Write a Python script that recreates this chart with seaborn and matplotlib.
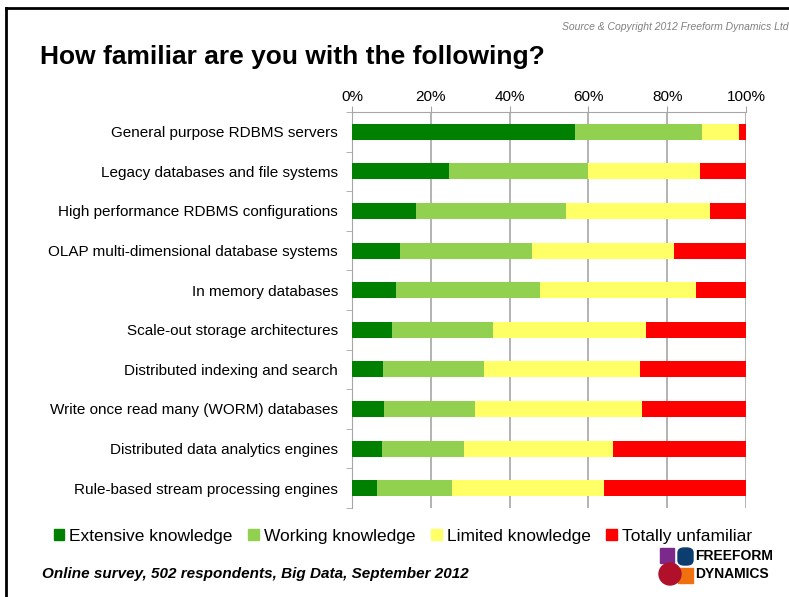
import numpy as np
import pandas as pd
import matplotlib.pyplot as plt
import matplotlib.patches as mpatches
from matplotlib.lines import Line2D
import seaborn as sns

categories = ["General purpose RDBMS servers",
              "Legacy databases and file systems",
              "High performance RDBMS configurations",
              "OLAP multi-dimensional database systems",
              "In memory databases",
              "Scale-out storage architectures",
              "Distributed indexing and search",
              "Write once read many (WORM) databases",
              "Distributed data analytics engines",
              "Rule-based stream processing engines"]
extensive = [56.5, 24.7, 16.3, 12.3, 11.2, 10.2, 7.8, 8.0, 7.7, 6.3]
working = [32.4, 35.3, 38.1, 33.3, 36.6, 25.6, 25.6, 23.1, 20.6, 19.2]
limited = [9.2, 28.2, 36.5, 36.2, 39.6, 38.9, 39.8, 42.5, 37.9, 38.5]
unfamiliar = [1.9, 11.8, 9.1, 18.2, 12.6, 25.3, 26.8, 26.4, 33.8, 36.0]

series = ["Extensive knowledge", "Working knowledge", "Limited knowledge", "Totally unfamiliar"]
colors = ["#008000", "#92D050", "#FFFF66", "#FF0000"]

df = pd.DataFrame({"cat": categories, series[0]: extensive, series[1]: working,
                   series[2]: limited, series[3]: unfamiliar})
cum = df[series].cumsum(axis=1)
cum = cum.div(cum[series[-1]], axis=0) * 100

plt.rcParams['font.family'] = ['Liberation Sans', 'DejaVu Sans']
fig = plt.figure(figsize=(7.89, 5.97), dpi=100)
ax = fig.add_axes([352/789, 1 - 508/597, 394/789, 396/597])

# draw the stacks back to front
for s, c in zip(series[::-1], colors[::-1]):
    sns.barplot(x=cum[s], y=df["cat"], color=c, width=0.4, ax=ax,
                orient="h", saturation=1, zorder=3, edgecolor="none")

ax.set_xlim(0, 100)
ax.set_ylim(9.5, -0.5)
ax.set_xlabel("")
ax.set_ylabel("")
ax.xaxis.tick_top()
ax.set_xticks(range(0, 101, 20))
ax.set_xticklabels([f"{v}%" for v in range(0, 101, 20)], fontsize=11)
ax.tick_params(axis="x", length=4, color="#A6A6A6", pad=2)
ax.tick_params(axis="y", length=0, labelsize=11, pad=10)
ax.set_yticks(np.arange(-0.5, 10, 1), minor=True)
ax.tick_params(axis="y", which="minor", length=4, color="#A6A6A6")
ax.grid(axis="x", color="#A6A6A6", linewidth=1.2, zorder=0)
ax.set_axisbelow(True)
for sp in ["right", "bottom"]:
    ax.spines[sp].set_visible(False)
for sp in ["left", "top"]:
    ax.spines[sp].set_color("#A6A6A6")

fig.text(40/789, 1 - 57/597, "How familiar are you with the following?",
         fontsize=19, fontweight="bold", va="center", ha="left")
fig.text(562/789, 1 - 27/597, "Source & Copyright 2012 Freeform Dynamics Ltd",
         fontsize=7.5, style="italic", color="#808080", ha="left", va="center")
fig.text(42/789, 1 - 574/597, "Online survey, 502 respondents, Big Data, September 2012",
         fontsize=11, fontweight="bold", style="italic", ha="left", va="center")

handles = [mpatches.Patch(color=c, label=s) for s, c in zip(series, colors)]
fig.legend(handles=handles, loc="center", bbox_to_anchor=(403/789, 1 - 536/597), ncol=4,
           frameon=False, fontsize=12.5, handlelength=0.6, handleheight=0.6,
           handletextpad=0.3, columnspacing=0.9)

# frame lines
fig.add_artist(Line2D([6/789, 6/789], [0, 1 - 8/597], color="black", lw=2))
fig.add_artist(Line2D([6/789, 1], [1 - 8/597, 1 - 8/597], color="black", lw=2))

# logo
def px(x, y):
    return (x/789, 1 - y/597)
fig.add_artist(mpatches.Rectangle(px(660, 563), 14/789, 15/597, color="#7B2A8B"))
fig.add_artist(mpatches.FancyBboxPatch(px(678, 565), 15/789, 17/597, color="#0B3D6E",
                                       boxstyle="round,pad=0,rounding_size=0.008"))
fig.add_artist(mpatches.Rectangle(px(678, 583), 15/789, 15/597, color="#F07010"))
fig.add_artist(mpatches.Ellipse(px(670, 574), 22/789, 22/597, color="#B0102A"))
fig.text(695/789, 1 - 556/597, "FREEFORM", fontsize=10, fontweight="bold",
         ha="left", va="center")
fig.text(695/789, 1 - 574/597, "DYNAMICS", fontsize=10, fontweight="bold",
         ha="left", va="center")

fig.savefig("out.png", dpi=100)
